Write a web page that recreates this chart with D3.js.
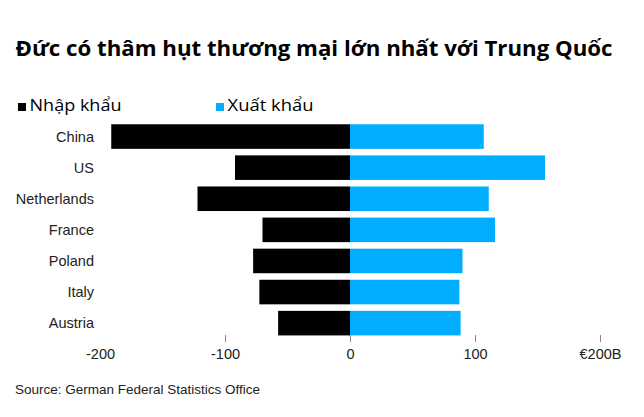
<!DOCTYPE html>
<html><head><meta charset="utf-8">
<script src="https://cdn.jsdelivr.net/npm/d3@7"></script>
<style>body{margin:0;background:#fff}svg{display:block}</style>
</head><body><div id="chart"></div>
<script>
const categories = ["China","US","Netherlands","France","Poland","Italy","Austria"];
const imports = [191, 92, 122, 70, 77.5, 72.5, 57.5];
const exports_ = [107, 156, 111, 116, 90, 87.5, 88.5];
const tickValues = [-200, -100, 0, 100, 200];
const tickLabels = ["-200", "-100", "0", "100", "€200B"];
const seriesNames = ["Nhập khẩu", "Xuất khẩu"];
const colors = ["#000000", "#00adfe"];

const W = 644, H = 417;
const svg = d3.select("#chart").append("svg").attr("width", W).attr("height", H);

const x = d3.scaleLinear().domain([-200, 200]).range([100, 600]);
const y = d3.scaleBand().domain(categories).range([121, 338.7]).paddingInner(0.21).paddingOuter(0.105);

// title
svg.append("text").attr("x", 15.5).attr("y", 56)
  .attr("font-family", "'Open Sans', sans-serif").attr("font-weight", 700)
  .attr("font-size", 21.5).attr("fill", "#000")
  .attr("textLength", 597).attr("lengthAdjust", "spacingAndGlyphs")
  .text("Đức có thâm hụt thương mại lớn nhất với Trung Quốc");

// legend
const legX = [18, 216], legLen = [92, 86];
seriesNames.forEach((n, i) => {
  svg.append("rect").attr("x", legX[i]).attr("y", 103).attr("width", 8).attr("height", 8).attr("fill", colors[i]);
  svg.append("text").attr("x", legX[i] + 11.5).attr("y", 111)
    .attr("font-family", "'Open Sans', sans-serif").attr("font-size", 17).attr("fill", "#000")
    .attr("textLength", legLen[i]).attr("lengthAdjust", "spacingAndGlyphs")
    .text(n);
});

// bars
svg.append("g").selectAll("rect").data(categories).join("rect")
  .attr("x", (d, i) => x(-imports[i])).attr("y", d => y(d))
  .attr("width", (d, i) => x(0) - x(-imports[i])).attr("height", y.bandwidth())
  .attr("fill", colors[0]);
svg.append("g").selectAll("rect").data(categories).join("rect")
  .attr("x", x(0)).attr("y", d => y(d))
  .attr("width", (d, i) => x(exports_[i]) - x(0)).attr("height", y.bandwidth())
  .attr("fill", colors[1]);

// category labels
svg.append("g").selectAll("text").data(categories).join("text")
  .attr("x", 94).attr("y", d => y(d) + y.bandwidth() / 2)
  .attr("dy", "0.35em").attr("text-anchor", "end")
  .attr("font-family", "'Liberation Sans', Arial, sans-serif").attr("font-size", 14.5)
  .attr("fill", "#222").text(d => d);

// x axis
const axis = d3.axisBottom(x).tickValues(tickValues).tickSize(7)
  .tickFormat((d, i) => tickLabels[i]);
const ag = svg.append("g").attr("transform", "translate(0,335)").call(axis);
ag.select(".domain").remove();
ag.selectAll(".tick line").attr("stroke", "#888").attr("stroke-width", 1)
  .attr("opacity", d => d === -200 ? 0 : 1);
ag.selectAll(".tick text").attr("y", 19).attr("dy", "0.35em")
  .attr("font-family", "'Liberation Sans', Arial, sans-serif").attr("font-size", 14.5)
  .attr("fill", "#222");

// source
svg.append("text").attr("x", 15).attr("y", 394)
  .attr("font-family", "'Liberation Sans', Arial, sans-serif").attr("font-size", 13.5)
  .attr("fill", "#222").text("Source: German Federal Statistics Office");
</script></body></html>
